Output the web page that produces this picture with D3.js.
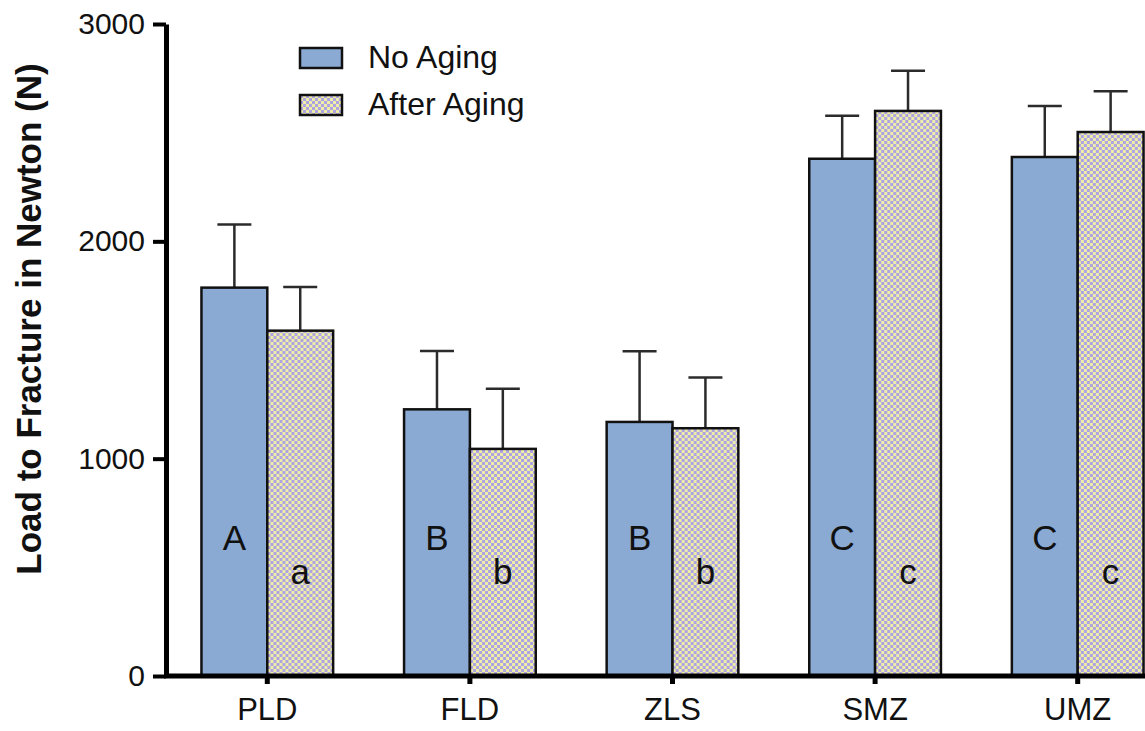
<!DOCTYPE html>
<html>
<head>
<meta charset="utf-8">
<script src="https://cdn.jsdelivr.net/npm/d3@7"></script>
<style>
  html, body { margin: 0; padding: 0; background: #fff; }
  svg { display: block; font-family: "Liberation Sans", Arial, sans-serif; }
</style>
</head>
<body>
<svg id="chart" width="1145" height="731"></svg>
<script>
// Load to fracture (N), mean and SD per material, before and after aging
const categories = ["PLD", "FLD", "ZLS", "SMZ", "UMZ"];
const seriesNames = ["No Aging", "After Aging"];
const meanNoAging = [1787, 1227, 1169, 2380, 2388];
const sdNoAging = [291, 268, 325, 198, 235];
const meanAfterAging = [1589, 1045, 1140, 2600, 2503];
const sdAfterAging = [201, 277, 234, 185, 187];
const groupNoAging = ["A", "B", "B", "C", "C"];
const groupAfterAging = ["a", "b", "b", "c", "c"];
const yTicks = [0, 1000, 2000, 3000];

const rows = categories.map((c, i) => ({
  category: c,
  values: [
    { series: seriesNames[0], mean: meanNoAging[i], sd: sdNoAging[i], group: groupNoAging[i] },
    { series: seriesNames[1], mean: meanAfterAging[i], sd: sdAfterAging[i], group: groupAfterAging[i] }
  ]
}));

const svg = d3.select("#chart");
const x0 = 166, y0 = 676, yTop = 24;

const y = d3.scaleLinear().domain([0, 3000]).range([y0, yTop]);
const x = d3.scaleBand().domain(categories).range([x0, 1179]).paddingInner(0.35).paddingOuter(0.175);
const xs = d3.scaleBand().domain(seriesNames).range([0, x.bandwidth()]);

// Checkerboard fill for the aged specimens
const defs = svg.append("defs");
const pat = defs.append("pattern").attr("id", "checker")
  .attr("patternUnits", "userSpaceOnUse").attr("width", 6).attr("height", 6);
pat.append("rect").attr("width", 6).attr("height", 6).attr("fill", "#efeea8");
pat.append("rect").attr("x", 0).attr("y", 0).attr("width", 3).attr("height", 3).attr("fill", "#ada2e2");
pat.append("rect").attr("x", 3).attr("y", 3).attr("width", 3).attr("height", 3).attr("fill", "#ada2e2");

const fills = { "No Aging": "#8aaad4", "After Aging": "url(#checker)" };

const groups = svg.append("g").selectAll("g").data(rows).join("g")
  .attr("transform", d => `translate(${x(d.category)},0)`);

// error bars (upper whisker + cap)
groups.selectAll("g.err").data(d => d.values).join("g").attr("class", "err")
  .each(function (d) {
    const g = d3.select(this);
    const cx = xs(d.series) + xs.bandwidth() / 2;
    g.append("line").attr("x1", cx).attr("x2", cx)
      .attr("y1", y(d.mean)).attr("y2", y(d.mean + d.sd))
      .attr("stroke", "#2b2b2b").attr("stroke-width", 2.5);
    g.append("line").attr("x1", cx - 17).attr("x2", cx + 17)
      .attr("y1", y(d.mean + d.sd)).attr("y2", y(d.mean + d.sd))
      .attr("stroke", "#2b2b2b").attr("stroke-width", 2.5);
  });

groups.selectAll("rect.bar").data(d => d.values).join("rect").attr("class", "bar")
  .attr("x", d => xs(d.series))
  .attr("y", d => y(d.mean))
  .attr("width", xs.bandwidth())
  .attr("height", d => y(0) - y(d.mean))
  .attr("fill", d => fills[d.series])
  .attr("stroke", "#111").attr("stroke-width", 2.5);

// significance group letters
groups.selectAll("text.grp").data(d => d.values).join("text").attr("class", "grp")
  .attr("x", d => xs(d.series) + xs.bandwidth() / 2)
  .attr("y", (d, i) => i === 0 ? 550 : 584)
  .attr("text-anchor", "middle")
  .attr("font-size", 35)
  .attr("fill", "#111")
  .text(d => d.group);

// axes
const yAxis = svg.append("g").attr("transform", `translate(${x0},0)`)
  .call(d3.axisLeft(y).tickValues(yTicks).tickSize(13).tickSizeOuter(0).tickPadding(8).tickFormat(d3.format("d")));
yAxis.select(".domain").attr("stroke", "#000").attr("stroke-width", 5);
yAxis.selectAll(".tick line").attr("stroke", "#000").attr("stroke-width", 4);
yAxis.selectAll(".tick text").attr("font-size", 30).attr("fill", "#111")
  .attr("font-family", "Liberation Sans, Arial, sans-serif");

const xAxis = svg.append("g").attr("transform", `translate(0,${y0})`)
  .call(d3.axisBottom(x).tickSize(8).tickSizeOuter(0).tickPadding(14));
xAxis.select(".domain").attr("stroke", "#000").attr("stroke-width", 5)
  .attr("d", `M${x0 - 2},0H1179`);
xAxis.selectAll(".tick line").attr("stroke", "#000").attr("stroke-width", 5);
xAxis.selectAll(".tick text").attr("font-size", 31).attr("fill", "#111")
  .attr("font-family", "Liberation Sans, Arial, sans-serif");

// y-axis title
svg.append("text")
  .attr("transform", `translate(41,319) rotate(-90)`)
  .attr("text-anchor", "middle")
  .attr("font-size", 35).attr("font-weight", "bold").attr("fill", "#111")
  .text("Load to Fracture in Newton (N)");

// legend
const legend = svg.append("g").attr("transform", "translate(300,48)");
const li = legend.selectAll("g").data(seriesNames).join("g")
  .attr("transform", (d, i) => `translate(0,${i * 47})`);
li.append("rect").attr("width", 42).attr("height", 20)
  .attr("fill", d => fills[d]).attr("stroke", "#111").attr("stroke-width", 2.5);
li.append("text").attr("x", 68).attr("y", 20)
  .attr("font-size", 32).attr("fill", "#111").text(d => d);
</script>
</body>
</html>
